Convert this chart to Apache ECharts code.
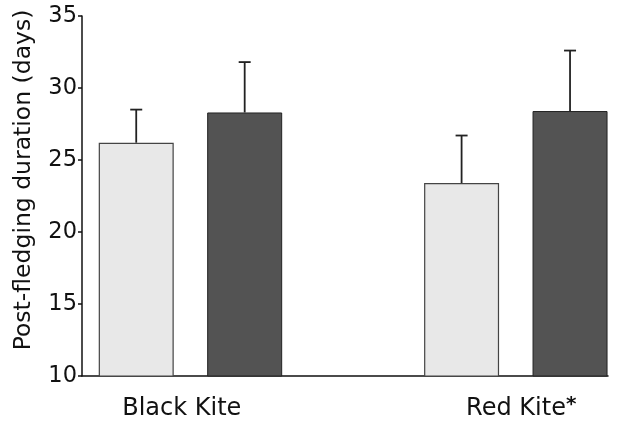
<!DOCTYPE html>
<html>
<head>
<meta charset="utf-8">
<script src="https://cdn.jsdelivr.net/npm/echarts@6/dist/echarts.min.js"></script>
<style>html,body{margin:0;padding:0;background:#fff;}#c{width:621px;height:421px;}</style>
</head>
<body>
<div id="c"></div>
<script>
var categories = ['Black Kite', 'Red Kite'];
var lightMeans = [26.2, 23.4];
var darkMeans = [28.3, 28.4];
var lightUpper = [28.5, 26.7];
var darkUpper = [31.8, 32.6];
var yTicks = [10, 15, 20, 25, 30, 35];

var lightStyle = {color: '#e8e8e8', borderColor: '#444', borderWidth: 1.2};
var darkStyle = {color: '#535353', borderColor: '#222', borderWidth: 1};

var barData = [];
var errData = [];
var labelPos = [];
categories.forEach(function (c, g) {
  var x1 = g * 3 + 1, x2 = g * 3 + 2;
  barData.push({value: [x1, lightMeans[g]], itemStyle: lightStyle});
  barData.push({value: [x2, darkMeans[g]], itemStyle: darkStyle});
  errData.push([x1, lightMeans[g], lightUpper[g]]);
  errData.push([x2, darkMeans[g], darkUpper[g]]);
  labelPos.push(g === 0 ? x1 + 0.42 : x1 + 0.55);
});

var chart = echarts.init(document.getElementById('c'), null, {renderer: 'canvas'});
chart.setOption({
  animation: false,
  backgroundColor: '#fff',
  grid: {left: 82, right: 13, top: 16, bottom: 45},
  xAxis: {
    type: 'value', min: 0.5, max: 5.35,
    splitLine: {show: false},
    axisLine: {show: true, onZero: false, lineStyle: {color: '#111', width: 1.5}},
    axisTick: {show: false},
    axisLabel: {
      customValues: labelPos,
      margin: 19,
      formatter: function (v) {
        var i = labelPos.indexOf(v);
        if (i === 1) return '{a|' + categories[i] + '}{s|*}';
        return '{a|' + (categories[i] || '') + '}';
      },
      rich: {
        a: {fontFamily: 'DejaVu Sans', fontSize: 24, color: '#111', lineHeight: 28},
        s: {fontFamily: 'DejaVu Sans', fontSize: 20, color: '#111', fontWeight: 'bold', lineHeight: 28, verticalAlign: 'top'}
      }
    }
  },
  yAxis: {
    type: 'value', min: yTicks[0], max: yTicks[yTicks.length - 1], interval: 5,
    name: 'Post-fledging duration (days)',
    nameLocation: 'middle', nameGap: 46,
    nameTextStyle: {fontFamily: 'DejaVu Sans', fontSize: 23.5, color: '#111', padding: [0, 0, 0, 32]},
    splitLine: {show: false},
    axisLine: {show: true, lineStyle: {color: '#111', width: 1.5}},
    axisTick: {show: true, length: 4, lineStyle: {color: '#111', width: 1.5}},
    axisLabel: {fontFamily: 'DejaVu Sans', fontSize: 22.5, color: '#111', margin: 5}
  },
  series: [
    {type: 'bar', data: barData, barWidth: 75, z: 2},
    {
      type: 'custom', z: 3,
      data: errData,
      renderItem: function (params, api) {
        var x = api.value(0);
        var p0 = api.coord([x, api.value(1)]);
        var p1 = api.coord([x, api.value(2)]);
        var st = {stroke: '#222', lineWidth: 1.8};
        return {type: 'group', children: [
          {type: 'line', shape: {x1: p0[0], y1: p0[1], x2: p1[0], y2: p1[1]}, style: st},
          {type: 'line', shape: {x1: p1[0] - 6, y1: p1[1], x2: p1[0] + 6, y2: p1[1]}, style: st}
        ]};
      }
    }
  ]
});
</script>
</body>
</html>
